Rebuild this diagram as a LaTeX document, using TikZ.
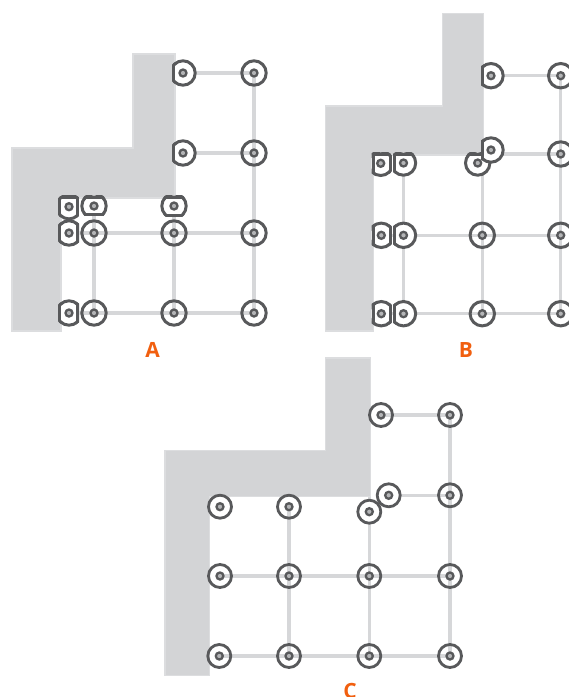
\documentclass[tikz,border=0pt]{standalone}
\usepackage{fontspec}
\setsansfont{Open Sans}
\usepackage{xcolor}
\usetikzlibrary{backgrounds}
\definecolor{ringgray}{HTML}{58595B}
\definecolor{hubgray}{HTML}{B4B5B7}
\definecolor{wallfill}{HTML}{D3D4D6}
\definecolor{walledge}{HTML}{DCDDDF}
\definecolor{wiregray}{HTML}{D6D7D9}
\definecolor{caseorange}{HTML}{F15F0F}
\tikzset{
  % --- structural outline and grid ---
  wall/.style={fill=wallfill, draw=walledge, line width=1.4pt},
  wire/.style={draw=wiregray, line width=3.4pt},
  % --- anchor rings ---
  hubdot/.style={circle, draw=ringgray, fill=hubgray, line width=2.3pt,
                 minimum size=7pt, inner sep=0pt},
  ring/.style={circle, draw=ringgray, line width=3pt, minimum size=24.4pt,
               inner sep=0pt, label={[hubdot]center:{}}},
  ringC/.style={ring, line width=2.8pt, minimum size=23pt},
  cutline/.style={draw=ringgray, line width=3pt},
  caselabel/.style={font=\sffamily\bfseries\fontsize{21}{25}\selectfont,
                    text=caseorange, inner sep=0pt},
}
% ring cut by the box x0,y0 -- x1,y1: name, cx, cy, x0, y0, x1, y1
\newcommand{\cutring}[7]{
  \begin{scope}
    \clip (#4-1.5,#5-1.5) rectangle (#6+1.5,#7+1.5);
    \draw[cutline, fill=white] (#2,#3) circle (12.2);
  \end{scope}
  \begin{scope}
    \clip (#2,#3) circle (13.7);
    \draw[cutline] (#4,#5) rectangle (#6,#7);
  \end{scope}
  \node[hubdot] (#1) at (#2,#3) {};
}

\begin{document}
\begin{tikzpicture}[x=1pt, y=-1pt]
  \path[use as bounding box] (0,0) rectangle (569,697);

  % --- case A ---
  \node[ring] (a1) at (254,73) {};
  \node[ring] (a2) at (254,153) {};
  \node[ring] (a3) at (254,233) {};
  \node[ring] (a4) at (254,313) {};
  \node[ring] (a5) at (174,233) {};
  \node[ring] (a6) at (174,313) {};
  \node[ring] (a7) at (94,233) {};
  \node[ring] (a8) at (94,313) {};
  \cutring{a9}{183}{73}{173.7}{40}{210}{100}
  \cutring{a10}{183}{153}{173.7}{120}{210}{180}
  \cutring{a11}{174}{206}{150}{197.2}{200}{215.3}
  \cutring{a12}{94}{206}{70}{197.2}{120}{214.4}
  \cutring{a13}{69}{206.7}{59.7}{197.2}{77}{230}
  \cutring{a14}{69}{233}{59.7}{210}{77.5}{260}
  \cutring{a15}{69}{313}{59.7}{290}{77.5}{340}
  \node[caselabel] (labA) at (152.5,350) {A};

  % --- case B ---
  \coordinate (b16) at (482.3,154);
  \node[ring] (b1) at (560.7,75.7) {};
  \node[ring] (b2) at (560.7,154) {};
  \node[ring] (b3) at (560.7,235.3) {};
  \node[ring] (b4) at (560.7,313.7) {};
  \node[ring] (b5) at (482.3,235.3) {};
  \node[ring] (b6) at (482.3,313.7) {};
  \cutring{b7}{491}{75.7}{482.7}{40}{520}{110}
  \cutring{b8}{477.7}{163}{450}{154.4}{510}{190}
  \cutring{b9}{491}{150}{482.7}{120}{520}{180}
  \cutring{b10}{403.5}{163}{394.7}{154}{430}{190}
  \cutring{b11}{380.7}{163.3}{373}{154.4}{390.3}{190}
  \cutring{b12}{403.5}{235.3}{394.7}{210}{430}{260}
  \cutring{b13}{381.3}{235.3}{373}{210}{390.3}{260}
  \cutring{b14}{403.5}{313.7}{394.7}{290}{430}{340}
  \cutring{b15}{381.3}{313.7}{373}{290}{390.3}{340}
  \node[caselabel] (labB) at (466,350) {B};

  % --- case C ---
  \coordinate (c16) at (369.3,496.5);
  \node[ringC] (c1) at (381,415) {};
  \node[ringC] (c2) at (450,415) {};
  \node[ringC] (c3) at (450,495.3) {};
  \node[ringC] (c4) at (450,576) {};
  \node[ringC] (c5) at (450,656) {};
  \node[ringC] (c6) at (369.3,576) {};
  \node[ringC] (c7) at (369.3,656) {};
  \node[ringC, fill=white] (c9) at (369.3,511.7) {};
  \node[ringC, fill=white] (c8) at (388.7,495.3) {};
  \node[ringC] (c10) at (289,506.7) {};
  \node[ringC] (c11) at (289,576) {};
  \node[ringC] (c12) at (289,656) {};
  \node[ringC] (c13) at (220,506.7) {};
  \node[ringC] (c14) at (220,576) {};
  \node[ringC] (c15) at (219.3,656) {};
  \node[caselabel] (labC) at (350,691) {C};

  \begin{scope}[on background layer]
    \draw[wall] (12,148) -- (133,148) -- (133,54) -- (175,54) -- (175,198)
                -- (61,198) -- (61,331) -- (12,331) -- cycle;
    \draw[wall] (325.5,106) -- (442.5,106) -- (442.5,13.5) -- (483.5,13.5) -- (483.5,155)
                -- (373.5,155) -- (373.5,331) -- (325.5,331) -- cycle;
    \draw[wall] (164.8,450.5) -- (325.5,450.5) -- (325.5,357.8) -- (370.3,357.8) -- (370.3,496.5)
                -- (209.7,496.5) -- (209.7,675.3) -- (164.8,675.3) -- cycle;
    \draw[wire] (a10.center) -- (a2.center);
    \draw[wire] (a9.center) -- (a1.center);
    \draw[wire] (a1.center) -- (a4.center);
    \draw[wire] (a14.center) -- (a3.center);
    \draw[wire] (a15.center) -- (a4.center);
    \draw[wire] (a12.center) -- (a8.center);
    \draw[wire] (a11.center) -- (a6.center);
    \draw[wire] (b7.center) -- (b1.center);
    \draw[wire] (b1.center) -- (b4.center);
    \draw[wire] (b16) -- (b6.center);
    \draw[wire] (b16) -- (b2.center);
    \draw[wire] (b13.center) -- (b3.center);
    \draw[wire] (b15.center) -- (b4.center);
    \draw[wire] (b10.center) -- (b14.center);
    \draw[wire] (c1.center) -- (c2.center) -- (c5.center);
    \draw[wire] (c8.center) -- (c3.center);
    \draw[wire] (c14.center) -- (c4.center);
    \draw[wire] (c15.center) -- (c5.center);
    \draw[wire] (c10.center) -- (c12.center);
    \draw[wire] (c16) -- (c7.center);
  \end{scope}
\end{tikzpicture}
\end{document}
